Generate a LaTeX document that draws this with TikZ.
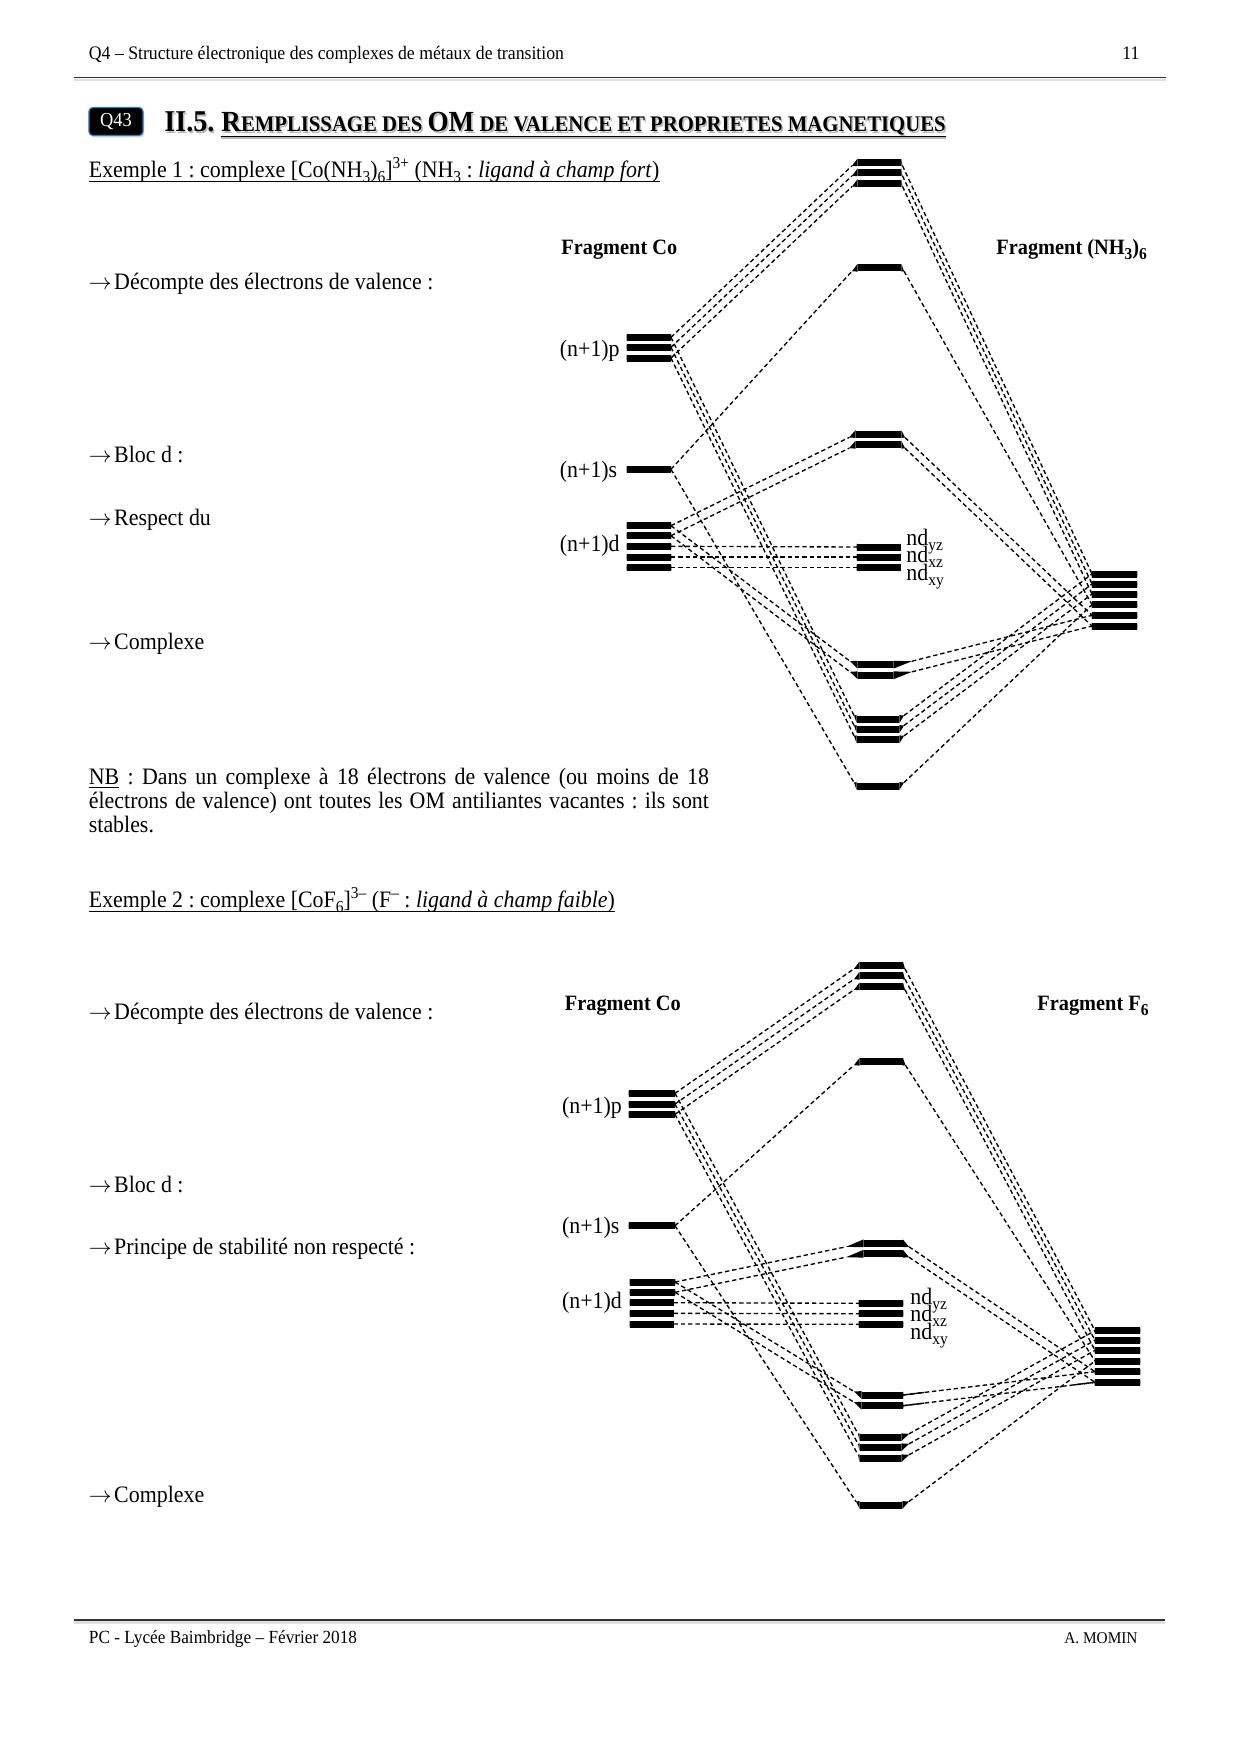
\documentclass[tikz,border=0pt]{standalone}
\usepackage{fontspec}
\setmainfont[FakeStretch=0.93]{Liberation Serif}
\usetikzlibrary{calc,shadows}
\frenchspacing
\definecolor{rulecol}{HTML}{333333}
\definecolor{boxblue}{HTML}{3A78B8}
\tikzset{
  lvl/.style={fill=black,draw=none,inner sep=0pt,minimum height=7*0.48pt,rectangle},
  lnk/.style={dash pattern=on 2.1pt off 1.4pt,line width=0.65pt},
  solidlink/.style={line width=0.65pt},
  body/.style={anchor=base west,inner sep=0pt,font=\fontsize{11.3}{13}\selectfont},
  head/.style={anchor=base west,inner sep=0pt,font=\fontsize{9.15}{11}\selectfont},
  frag/.style={anchor=base west,inner sep=0pt,font=\bfseries\fontsize{10.5}{13}\selectfont},
  lab/.style={anchor=base west,inner sep=0pt,font=\fontsize{11.3}{13}\selectfont},
  ulink/.style={line width=0.5pt}
}
\newcommand\sbs[1]{\raisebox{-0.5ex}{\fontsize{8}{8}\selectfont #1}}
\newcommand\sps[1]{\raisebox{0.8ex}{\fontsize{8}{8}\selectfont #1}}
\newcommand\arrowtxt{$\rightarrow$\kern1.2pt}
% level: name, xl, xr, y, left tip dx, left tip side, right tip dx, right tip side
\newcommand\lev[8]{%
  \node[lvl,minimum width={(#3-#2)*0.48pt}] (#1) at ({(#2+#3)/2},#4) {};
  \coordinate (#1-l) at ({#2-#5},{#4+3.5*#6});
  \coordinate (#1-r) at ({#3+#7},{#4+3.5*#8});
  \fill (#1.north west) -- (#1-l) -- (#1.south west) -- cycle;
  \fill (#1.north east) -- (#1-r) -- (#1.south east) -- cycle;
}
\newcommand\bigc[1]{{\fontsize{14}{15}\selectfont #1}}
\newcommand\titletext{\bigc{R}EMPLISSAGE DES \bigc{OM} DE VALENCE ET PROPRIETES MAGNETIQUES}
\begin{document}
\begin{tikzpicture}[x=0.48pt,y=-0.48pt]
\useasboundingbox (0,0) rectangle (1240,1754);
\fill[white] (0,0) rectangle (1240,1754);

% header
\node[head] (hl) at (88.5,59.5) {Q4 – Structure électronique des complexes de métaux de transition};
\node[head] (hr) at (1122,59.5) {11};
\coordinate (hra) at (74,77.5); \coordinate (hrb) at (1166,77.5);
\draw[gray!25,line width=1.2pt] ([yshift=-1.2pt]hra) -- ([yshift=-1.2pt]hrb);
\draw[rulecol,line width=0.8pt] (hra) -- (hrb);

% title
\node[fill=black,draw=boxblue,line width=0.6pt,rounded corners=2pt,text=white,inner sep=0pt,
      minimum width=26pt,minimum height=13.5pt,drop shadow={shadow xshift=0.6pt,shadow yshift=-0.9pt,opacity=0.3},
      font=\fontsize{9.5}{11}\selectfont] (q43) at (116,121.5) {Q43};
\node[anchor=base west,inner sep=0pt,text=gray!55,font=\bfseries\fontsize{14.5}{16}\selectfont] at (165.5,133) {II.5.};
\node[anchor=base west,inner sep=0pt,text=gray!55,font=\bfseries\fontsize{10.7}{16}\selectfont] at (222.5,133) {\titletext};
\node[anchor=base west,inner sep=0pt,font=\bfseries\fontsize{14.5}{16}\selectfont] (t1) at (164,131.5) {II.5.};
\node[anchor=base west,inner sep=0pt,font=\bfseries\fontsize{10.7}{16}\selectfont] (t2) at (221,131.5) {\titletext};
\draw[gray!55,line width=1pt] ([yshift=-3.2pt]t2.base west) -- ([yshift=-3.2pt]t2.base east);
\draw[line width=0.8pt] ([yshift=-2.4pt]t2.base west) -- ([yshift=-2.4pt]t2.base east);

% exemple 1
\node[body] (ex1) at (88.5,177.5) {Exemple 1 : complexe [Co(NH\sbs{3})\sbs{6}]\sps{3+} (NH\sbs{3} : \textit{ligand à champ fort})};
\draw[ulink] ([yshift=-2pt]ex1.base west) -- ([yshift=-2pt]ex1.base east);
\node[body] (a1) at (88.5,289.5) {\arrowtxt Décompte des électrons de valence :};
\node[body] (a2) at (88.5,462.5) {\arrowtxt Bloc d :};
\node[body] (a3) at (88.5,525.5) {\arrowtxt Respect du};
\node[body] (a4) at (88.5,649.5) {\arrowtxt Complexe};
\node[body] (nb1) at (88.5,784.5) {\makebox[297.6pt][s]{\underline{NB} : Dans un complexe à 18 électrons de valence (ou moins de 18}};
\node[body] (nb2) at (88.5,808.5) {\makebox[297.6pt][s]{électrons de valence) ont toutes les OM antiliantes vacantes : ils sont}};
\node[body] (nb3) at (88.5,832.5) {stables.};

% exemple 2
\node[body] (ex2) at (88.5,907.5) {Exemple 2 : complexe [CoF\sbs{6}]\sps{3--} (F\sps{--} : \textit{ligand à champ faible})};
\draw[ulink] ([yshift=-2pt]ex2.base west) -- ([yshift=-2pt]ex2.base east);
\node[body] (b1) at (88.5,1019.5) {\arrowtxt Décompte des électrons de valence :};
\node[body] (b2) at (88.5,1192.5) {\arrowtxt Bloc d :};
\node[body] (b3) at (88.5,1254.5) {\arrowtxt Principe de stabilité non respecté :};
\node[body] (b4) at (88.5,1502.5) {\arrowtxt Complexe};

% footer
\coordinate (fra) at (74,1620); \coordinate (frb) at (1165,1620);
\draw[gray!25,line width=1.2pt] ([yshift=-1.2pt]fra) -- ([yshift=-1.2pt]frb);
\draw[rulecol,line width=0.8pt] (fra) -- (frb);
\node[head,font=\fontsize{8.9}{11}\selectfont] (fl) at (88.5,1643.5) {PC - Lycée Baimbridge – Février 2018};
\node[head,font=\fontsize{7.9}{10}\selectfont] (fr) at (1064,1643.5) {A. MOMIN};

% ===== diagram 1 =====
\node[frag] (f1a) at (561,254) {Fragment Co};
\node[frag] (f1b) at (996,254) {Fragment (NH\sbs{3})\sbs{6}};
\node[lab] (l1p) at (559.5,356) {(n+1)p};
\node[lab] (l1s) at (559.5,477) {(n+1)s};
\node[lab] (l1d) at (559.5,551) {(n+1)d};
\node[lab] (nyz) at (906,545) {nd\sbs{yz}};
\node[lab] (nxz) at (906,562) {nd\sbs{xz}};
\node[lab] (nxy) at (906,580) {nd\sbs{xy}};

\lev{p1}{627}{671}{337.3}{0}{0}{0}{0}
\lev{p2}{627}{671}{347.3}{0}{0}{0}{0}
\lev{p3}{627}{671}{358}{0}{0}{0}{0}
\lev{s0}{627}{671}{469.3}{0}{0}{0}{0}
\lev{d1}{627}{671}{525.7}{0}{0}{0}{0}
\lev{d2}{627}{671}{535.7}{0}{0}{0}{0}
\lev{d3}{627}{671}{546.3}{0}{0}{0}{0}
\lev{d4}{627}{671}{557}{0}{0}{0}{0}
\lev{d5}{627}{671}{567.7}{0}{0}{0}{0}
\lev{ma1}{858}{901}{162.3}{6}{1}{1.5}{1}
\lev{ma2}{858}{901}{172.3}{6}{1}{1.5}{1}
\lev{ma3}{858}{901}{183}{6}{1}{1.5}{1}
\lev{mb}{858}{901}{267.7}{6}{1}{3}{1}
\lev{mc1}{856}{901}{434}{7}{1}{4}{1}
\lev{mc2}{856}{901}{444.7}{7}{1}{4}{1}
\lev{mt1}{857}{900.5}{547}{0}{0}{0}{0}
\lev{mt2}{857}{900.5}{557}{0}{0}{0}{0}
\lev{mt3}{857}{900.5}{567.7}{0}{0}{0}{0}
\lev{me1}{858}{893}{664.7}{8}{-1}{19}{-1}
\lev{me2}{858}{893}{675.3}{8}{-1}{19}{-1}
\lev{mf1}{857}{899}{719}{3}{-1}{5}{-1}
\lev{mf2}{857}{899}{729}{3}{-1}{5}{-1}
\lev{mf3}{857}{899}{739.3}{3}{-1}{5}{-1}
\lev{mg}{857}{899}{786}{3}{-1}{5}{-1}
\lev{r1}{1092}{1137}{574}{0}{0}{0}{0}
\lev{r2}{1092}{1137}{584}{0}{0}{0}{0}
\lev{r3}{1092}{1137}{594}{0}{0}{0}{0}
\lev{r4}{1092}{1137}{604.7}{0}{0}{0}{0}
\lev{r5}{1092}{1137}{615.3}{0}{0}{0}{0}
\lev{r6}{1092}{1137}{626}{0}{0}{0}{0}

\draw[lnk] (p1-r) -- (ma1-l); \draw[lnk] (p2-r) -- (ma2-l); \draw[lnk] (p3-r) -- (ma3-l);
\draw[lnk] (p1-r) -- (mf1-l); \draw[lnk] (p2-r) -- (mf2-l); \draw[lnk] (p3-r) -- (mf3-l);
\draw[lnk] (s0-r) -- (mb-l);  \draw[lnk] (s0-r) -- (mg-l);
\draw[lnk] (d1-r) -- (mc1-l); \draw[lnk] (d2-r) -- (mc2-l);
\draw[lnk] (d1-r) -- (me1-l); \draw[lnk] (d2-r) -- (me2-l);
\draw[lnk] (d3-r) -- (mt1-l); \draw[lnk] (d4-r) -- (mt2-l); \draw[lnk] (d5-r) -- (mt3-l);
\draw[lnk] (ma1-r) -- (r1-l); \draw[lnk] (ma2-r) -- (r2-l); \draw[lnk] (ma3-r) -- (r3-l);
\draw[lnk] (mf1-r) -- (r1-l); \draw[lnk] (mf2-r) -- (r2-l); \draw[lnk] (mf3-r) -- (r3-l);
\draw[lnk] (mb-r) -- (r4-l);  \draw[lnk] (mg-r) -- (r4-l);
\draw[lnk] (mc1-r) -- (r5-l); \draw[lnk] (mc2-r) -- (r6-l);
\draw[lnk] (me1-r) -- (r5-l); \draw[lnk] (me2-r) -- (r6-l);

% ===== diagram 2 =====
\node[frag] (f2a) at (564.5,1010) {Fragment Co};
\node[frag] (f2b) at (1037,1010) {Fragment F\sbs{6}};
\node[lab] (L1p) at (561.6,1113) {(n+1)p};
\node[lab] (L1s) at (561.6,1233) {(n+1)s};
\node[lab] (L1d) at (561.6,1308) {(n+1)d};
\node[lab] (Nyz) at (910,1304) {nd\sbs{yz}};
\node[lab] (Nxz) at (910,1321) {nd\sbs{xz}};
\node[lab] (Nxy) at (910,1339) {nd\sbs{xy}};

\lev{P1}{629}{675}{1093.3}{0}{0}{0}{0}
\lev{P2}{629}{675}{1104}{0}{0}{0}{0}
\lev{P3}{629}{675}{1114.3}{0}{0}{0}{0}
\lev{S0}{629}{675}{1225.7}{0}{0}{0}{0}
\lev{D1}{630}{675}{1282}{0}{0}{0}{0}
\lev{D2}{630}{675}{1292.3}{0}{0}{0}{0}
\lev{D3}{630}{673.5}{1302.7}{0}{0}{0}{0}
\lev{D4}{630}{673.5}{1313.3}{0}{0}{0}{0}
\lev{D5}{630}{673.5}{1324}{0}{0}{0}{0}
\lev{Ma1}{860}{902.5}{965.3}{6}{1}{2.5}{1}
\lev{Ma2}{860}{902.5}{975.7}{6}{1}{2.5}{1}
\lev{Ma3}{860}{902.5}{986.3}{6}{1}{2.5}{1}
\lev{Mb}{860}{902.5}{1061.7}{6}{1}{3}{1}
\lev{Mc1}{864}{902.5}{1243.3}{18}{1}{6.5}{1}
\lev{Mc2}{864}{902.5}{1253.7}{18}{1}{6.5}{1}
\lev{Mt1}{859}{903}{1303.3}{0}{0}{0}{0}
\lev{Mt2}{859}{903}{1313.7}{0}{0}{0}{0}
\lev{Mt3}{859}{903}{1324.3}{0}{0}{0}{0}
\lev{Me1}{862}{903}{1395}{8}{-1}{0}{0}
\lev{Me2}{862}{903}{1405.7}{8}{-1}{0}{0}
\lev{Mf1}{860}{901}{1437.3}{2}{-1}{8}{-1}
\lev{Mf2}{860}{901}{1447.3}{2}{-1}{8}{-1}
\lev{Mf3}{860}{901}{1458.3}{2}{-1}{8}{-1}
\lev{Mg}{860}{902}{1505}{4}{-1}{7}{-1}
\lev{R1}{1095}{1140}{1330.7}{0}{0}{0}{0}
\lev{R2}{1095}{1140}{1340.3}{0}{0}{0}{0}
\lev{R3}{1095}{1140}{1350.3}{0}{0}{0}{0}
\lev{R4}{1095}{1140}{1361}{0}{0}{0}{0}
\lev{R5}{1095}{1140}{1371.7}{0}{0}{0}{0}
\lev{R6}{1095}{1140}{1382.3}{0}{0}{0}{0}

\draw[lnk] (P1-r) -- (Ma1-l); \draw[lnk] (P2-r) -- (Ma2-l); \draw[lnk] (P3-r) -- (Ma3-l);
\draw[lnk] (P1-r) -- (Mf1-l); \draw[lnk] (P2-r) -- (Mf2-l); \draw[lnk] (P3-r) -- (Mf3-l);
\draw[lnk] (S0-r) -- (Mb-l);  \draw[lnk] (S0-r) -- (Mg-l);
\draw[lnk] (D1-r) -- (Mc1-l); \draw[lnk] (D2-r) -- (Mc2-l);
\draw[lnk] (D1-r) -- (Me1-l); \draw[lnk] (D2-r) -- (Me2-l);
\draw[lnk] (D3-r) -- (Mt1-l); \draw[lnk] (D4-r) -- (Mt2-l); \draw[lnk] (D5-r) -- (Mt3-l);
\draw[lnk] (Ma1-r) -- (R1-l); \draw[lnk] (Ma2-r) -- (R2-l); \draw[lnk] (Ma3-r) -- (R3-l);
\draw[lnk] (Mf1-r) -- (R1-l); \draw[lnk] (Mf2-r) -- (R2-l); \draw[lnk] (Mf3-r) -- (R3-l);
\draw[lnk] (Mb-r) -- (R4-l);  \draw[lnk] (Mg-r) -- (R4-l);
\draw[lnk] (Mc1-r) -- (R5-l); \draw[lnk] (Mc2-r) -- (R6-l);
\draw[lnk] (Me1-r) -- (R5-l); \draw[lnk] (Me2-r) -- (R6-l);
\draw[solidlink] (Me1-r) -- ($(Me1-r)!0.11!(R5-l)$);
\draw[solidlink] (Me2-r) -- ($(Me2-r)!0.11!(R6-l)$);
\draw[solidlink] (R6-l) -- ($(R6-l)!0.11!(Me2-r)$);
\end{tikzpicture}
\end{document}
